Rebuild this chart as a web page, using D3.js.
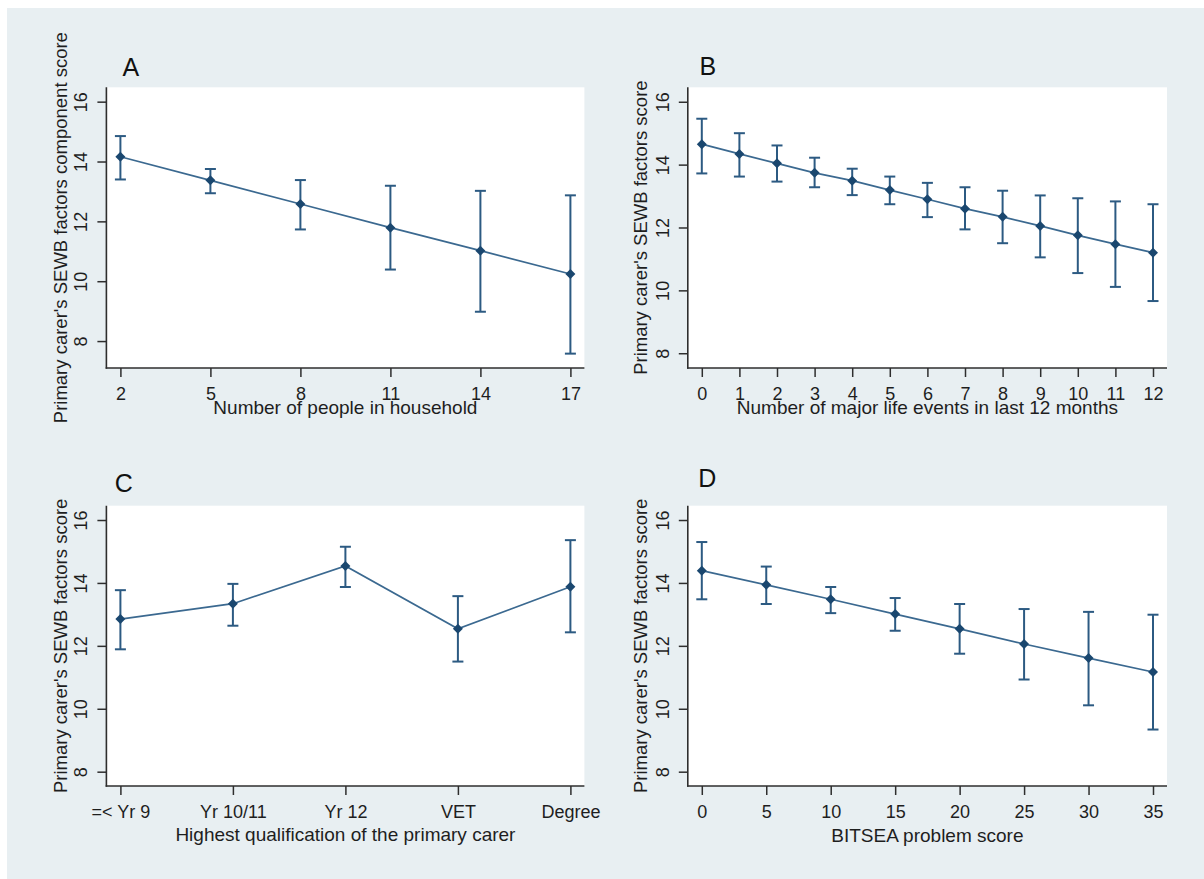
<!DOCTYPE html>
<html><head><meta charset="utf-8">
<script src="https://cdn.jsdelivr.net/npm/d3@7"></script>
<style>html,body{margin:0;padding:0;background:#fff;} svg{display:block;}</style>
</head><body>
<svg id="chart" width="1204" height="879"></svg>
<script>
// ---------- data ----------
const yTicks = [8, 10, 12, 14, 16];

const householdSize = [2, 5, 8, 11, 14, 17];
const householdMean = [14.16, 13.37, 12.58, 11.79, 11.02, 10.24];
const householdLow  = [13.40, 12.94, 11.73, 10.39, 8.98, 7.58];
const householdHigh = [14.85, 13.75, 13.38, 13.19, 13.02, 12.87];

const lifeEvents = [0, 1, 2, 3, 4, 5, 6, 7, 8, 9, 10, 11, 12];
const lifeEventsMean = [14.65, 14.34, 14.04, 13.74, 13.49, 13.19, 12.90, 12.60, 12.34, 12.05, 11.75, 11.47, 11.20];
const lifeEventsLow  = [13.72, 13.62, 13.46, 13.28, 13.03, 12.74, 12.33, 11.94, 11.50, 11.05, 10.55, 10.11, 9.66];
const lifeEventsHigh = [15.46, 15.00, 14.61, 14.22, 13.87, 13.62, 13.42, 13.28, 13.17, 13.02, 12.93, 12.83, 12.74];

const qualifications = ["=< Yr 9", "Yr 10/11", "Yr 12", "VET", "Degree"];
const qualMean = [12.85, 13.34, 14.54, 12.54, 13.88];
const qualLow  = [11.89, 12.64, 13.87, 11.50, 12.43];
const qualHigh = [13.77, 13.97, 15.15, 13.58, 15.36];

const bitseaScore = [0, 5, 10, 15, 20, 25, 30, 35];
const bitseaMean = [14.39, 13.94, 13.48, 13.01, 12.54, 12.06, 11.61, 11.17];
const bitseaLow  = [13.48, 13.33, 13.04, 12.48, 11.75, 10.93, 10.11, 9.34];
const bitseaHigh = [15.30, 14.52, 13.87, 13.52, 13.33, 13.17, 13.08, 12.99];

// ---------- layout ----------
const FONT = "'Liberation Sans', Arial, Helvetica, sans-serif";
const panels = [
  { letter: "A", xTitle: "Number of people in household",
    yTitle: "Primary carer's SEWB factors component score",
    x: householdSize, mean: householdMean, lo: householdLow, hi: householdHigh,
    yDomain: [7.1, 16.48], box: { left: 106.4, right: 584.4, top: 87.3, bottom: 368 },
    letterPos: [122.5, 76], tickY: 32, titleY: 413.5, yTitleX: 67 },
  { letter: "B", xTitle: "Number of major life events in last 12 months",
    yTitle: "Primary carer's SEWB factors score",
    x: lifeEvents, mean: lifeEventsMean, lo: lifeEventsLow, hi: lifeEventsHigh,
    yDomain: [7.53, 16.46], box: { left: 687.8, right: 1167, top: 87.3, bottom: 368 },
    letterPos: [699.4, 74.5], tickY: 32, titleY: 413.5, yTitleX: 647 },
  { letter: "C", xTitle: "Highest qualification of the primary carer",
    yTitle: "Primary carer's SEWB factors score", categorical: true,
    x: qualifications, mean: qualMean, lo: qualLow, hi: qualHigh,
    yDomain: [7.545, 16.455], box: { left: 106.4, right: 584.4, top: 505.7, bottom: 786 },
    letterPos: [114.8, 491.5], tickY: 31.5, titleY: 840.5, yTitleX: 67 },
  { letter: "D", xTitle: "BITSEA problem score",
    yTitle: "Primary carer's SEWB factors score",
    x: bitseaScore, mean: bitseaMean, lo: bitseaLow, hi: bitseaHigh,
    yDomain: [7.545, 16.455], box: { left: 687.8, right: 1167, top: 505.7, bottom: 786 },
    letterPos: [698.2, 487], tickY: 31.5, titleY: 841.5, yTitleX: 647 }
];

const AXIS_COLOR = "#2e2e2e";
const TEXT_COLOR = "#1e1e1e";
const MARKER_COLOR = "#1a476f";
const LINE_COLOR = "#3b6990";
const BAR_COLOR = "#2c5a82";

const svg = d3.select("#chart");
svg.append("rect").attr("x", 7).attr("y", 8).attr("width", 1197).attr("height", 871)
  .attr("fill", "#e8eff2");

const diamond = {
  draw(ctx, size) {
    const r = Math.sqrt(size / 2);
    ctx.moveTo(0, -r); ctx.lineTo(r, 0); ctx.lineTo(0, r); ctx.lineTo(-r, 0); ctx.closePath();
  }
};

panels.forEach(p => {
  const b = p.box;
  const g = svg.append("g");
  g.append("rect").attr("x", b.left).attr("y", b.top)
    .attr("width", b.right - b.left).attr("height", b.bottom - b.top).attr("fill", "#fff");

  const inset = 14;
  const x = p.categorical
    ? d3.scalePoint().domain(p.x).range([b.left + inset, b.right - inset])
    : d3.scaleLinear().domain(d3.extent(p.x)).range([b.left + inset, b.right - inset]);
  const y = d3.scaleLinear().domain(p.yDomain).range([b.bottom, b.top]);

  // y axis
  const gy = g.append("g").attr("transform", `translate(${b.left},0)`)
    .call(d3.axisLeft(y).tickValues(yTicks).tickSize(9).tickSizeOuter(0).tickFormat(d3.format("d")));
  gy.select(".domain").remove();
  gy.selectAll(".tick line").attr("stroke", AXIS_COLOR).attr("stroke-width", 1.5);
  gy.selectAll(".tick text")
    .attr("transform", "rotate(-90)").attr("x", 0).attr("y", -19).attr("dy", 0)
    .attr("text-anchor", "middle").attr("fill", TEXT_COLOR)
    .style("font-family", FONT).style("font-size", "18px");

  // x axis
  const xTickVals = p.x;
  const gx = g.append("g").attr("transform", `translate(0,${b.bottom})`)
    .call(d3.axisBottom(x).tickValues(xTickVals).tickSize(9).tickSizeOuter(0));
  gx.select(".domain").remove();
  gx.selectAll(".tick line").attr("stroke", AXIS_COLOR).attr("stroke-width", 1.5);
  gx.selectAll(".tick text").attr("y", p.tickY).attr("dy", 0)
    .attr("fill", TEXT_COLOR).style("font-family", FONT).style("font-size", "18px");

  // axis lines
  g.append("line").attr("x1", b.left).attr("x2", b.left).attr("y1", b.top).attr("y2", b.bottom + 0.75)
    .attr("stroke", AXIS_COLOR).attr("stroke-width", 1.6);
  g.append("line").attr("x1", b.left - 0.75).attr("x2", b.right).attr("y1", b.bottom).attr("y2", b.bottom)
    .attr("stroke", AXIS_COLOR).attr("stroke-width", 1.6);

  // titles
  g.append("text").attr("x", (b.left + b.right) / 2).attr("y", p.titleY)
    .attr("text-anchor", "middle").attr("fill", TEXT_COLOR)
    .style("font-family", FONT).style("font-size", "19px").text(p.xTitle);
  g.append("text")
    .attr("transform", `translate(${p.yTitleX},${(b.top + b.bottom) / 2}) rotate(-90)`)
    .attr("text-anchor", "middle").attr("fill", TEXT_COLOR)
    .style("font-family", FONT).style("font-size", "18.5px").text(p.yTitle);
  g.append("text").attr("x", p.letterPos[0]).attr("y", p.letterPos[1])
    .attr("fill", "#111").style("font-family", FONT).style("font-size", "25px").text(p.letter);

  const pts = p.x.map((v, i) => ({ x: v, mean: p.mean[i], lo: p.lo[i], hi: p.hi[i] }));

  // connecting line
  g.append("path").datum(pts)
    .attr("d", d3.line().x(d => x(d.x)).y(d => y(d.mean)))
    .attr("fill", "none").attr("stroke", LINE_COLOR).attr("stroke-width", 1.7);

  // error bars
  const eb = g.append("g").attr("stroke", BAR_COLOR).attr("stroke-width", 2).attr("fill", "none");
  const cap = 5.5;
  pts.forEach(d => {
    const cx = x(d.x);
    eb.append("line").attr("x1", cx).attr("x2", cx).attr("y1", y(d.lo)).attr("y2", y(d.hi));
    eb.append("line").attr("x1", cx - cap).attr("x2", cx + cap).attr("y1", y(d.lo)).attr("y2", y(d.lo));
    eb.append("line").attr("x1", cx - cap).attr("x2", cx + cap).attr("y1", y(d.hi)).attr("y2", y(d.hi));
  });

  // markers
  g.append("g").selectAll("path").data(pts).join("path")
    .attr("transform", d => `translate(${x(d.x)},${y(d.mean)})`)
    .attr("d", d3.symbol().type(diamond).size(50))
    .attr("fill", MARKER_COLOR);
});
</script>
</body></html>
